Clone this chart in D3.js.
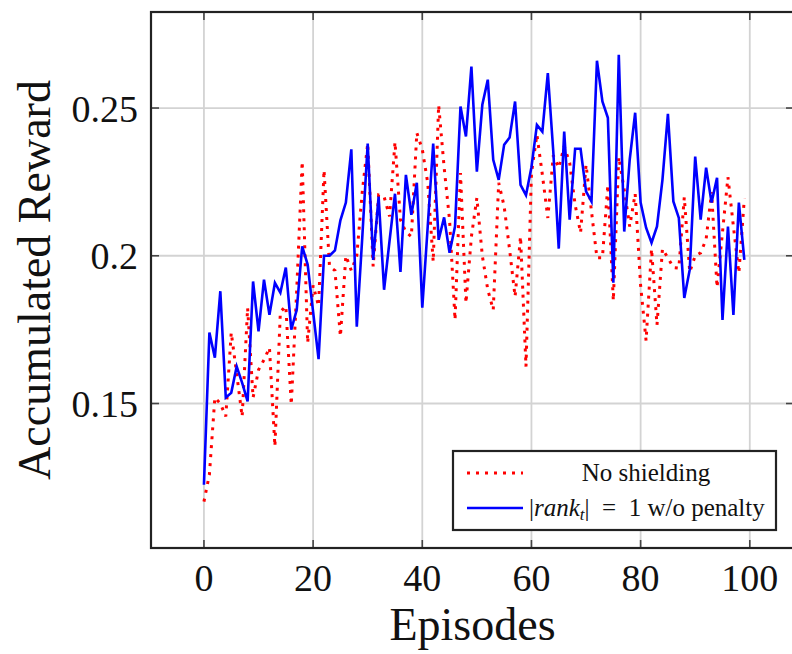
<!DOCTYPE html>
<html lang="en">
<head>
    <meta charset="UTF-8">
    <title>Accumulated Reward per Episode</title>
    <style>
        body { margin: 0; background: #fff; }
        svg { display: block; }
        text { font-family: "Liberation Serif", "Times New Roman", serif; fill: #111; }
        .tick-label { font-size: 38px; }
        .axis-label { font-size: 46px; }
        .legend-text { font-size: 25px; }
        .grid line { stroke: #d3d3d3; stroke-width: 1.8; }
    </style>
</head>
<body>

    <svg width="792" height="654"></svg>

    <script src="https://d3js.org/d3.v7.min.js"></script>
    <script>

        // Episode index for each sample
        const episodes = d3.range(0, 100);

        // "No shielding" (red, dotted)
        const noShielding = [
            0.1168, 0.126, 0.152, 0.150, 0.1456, 0.174, 0.160, 0.1456, 0.1824, 0.152,
            0.1614, 0.1648, 0.1689, 0.1355, 0.181, 0.183, 0.1496, 0.1885, 0.2319, 0.1705,
            0.190, 0.183, 0.229, 0.1964, 0.195, 0.1727, 0.200, 0.195, 0.200, 0.2215,
            0.238, 0.1964, 0.2206, 0.220, 0.2133, 0.2385, 0.2122, 0.208, 0.2065, 0.2416,
            0.236, 0.2247, 0.198, 0.251, 0.230, 0.212, 0.1783, 0.228, 0.184, 0.2065,
            0.2196, 0.200, 0.1885, 0.1817, 0.2247, 0.2167, 0.202, 0.1862, 0.2065, 0.1625,
            0.228, 0.241, 0.2274, 0.2128, 0.234, 0.2298, 0.237, 0.2315, 0.2173, 0.2078,
            0.2308, 0.215, 0.1993, 0.1993, 0.224, 0.1848, 0.2334, 0.2223, 0.2099, 0.221,
            0.190, 0.1713, 0.2023, 0.1766, 0.2023, 0.1993, 0.196, 0.1958, 0.2198, 0.1945,
            0.200, 0.201, 0.2056, 0.2215, 0.1893, 0.208, 0.2266, 0.2099, 0.1942, 0.2193
        ];

        // "|rank_t| = 1 w/o penalty" (blue, solid)
        const rankOne = [
            0.1225, 0.174, 0.1655, 0.188, 0.152, 0.1536, 0.1625, 0.157, 0.1507, 0.1913,
            0.1744, 0.1919, 0.180, 0.1908, 0.1875, 0.196, 0.175, 0.1817, 0.2032, 0.197,
            0.181, 0.165, 0.200, 0.200, 0.2018, 0.212, 0.218, 0.236, 0.176, 0.206,
            0.238, 0.1986, 0.220, 0.1885, 0.205, 0.221, 0.1945, 0.2274, 0.2139, 0.2247,
            0.1824, 0.210, 0.238, 0.2054, 0.213, 0.201, 0.210, 0.2505, 0.2404, 0.264,
            0.2285, 0.2511, 0.2596, 0.2325, 0.2257, 0.2376, 0.240, 0.2522, 0.224, 0.2205,
            0.230, 0.2443, 0.242, 0.2618, 0.2353, 0.2024, 0.242, 0.2122, 0.2362, 0.2362,
            0.2218, 0.2184, 0.266, 0.2522, 0.2467, 0.1909, 0.268, 0.2082, 0.2325, 0.2484,
            0.218, 0.2095, 0.2044, 0.2099, 0.2257, 0.248, 0.2184, 0.2128, 0.1857, 0.1953,
            0.2336, 0.2122, 0.2298, 0.218, 0.2264, 0.1783, 0.2099, 0.180, 0.218, 0.1986
        ];

        const xTicks = [0, 20, 40, 60, 80, 100];
        const yTicks = [0.15, 0.2, 0.25];
        const yTickLabels = ['0.15', '0.2', '0.25'];

        const seriesNames = ['No shielding', '|rank_t| = 1 w/o penalty'];

        // Plot box (the right border falls just outside the picture)
        const box = { left: 151, right: 794, top: 12, bottom: 548 };

        const svg = d3.select('svg');

        const xScale = d3.scaleLinear()
            .domain([-9.7, 108.1])
            .range([box.left, box.right]);

        const yScale = d3.scaleLinear()
            .domain([0.1011, 0.2825])
            .range([box.bottom, box.top]);

        // Grid lines
        const grid = svg.append('g').attr('class', 'grid');

        grid.selectAll('line.gx')
            .data(xTicks)
            .enter()
            .append('line')
            .attr('x1', function (d) { return xScale(d); })
            .attr('x2', function (d) { return xScale(d); })
            .attr('y1', box.top)
            .attr('y2', box.bottom);

        grid.selectAll('line.gy')
            .data(yTicks)
            .enter()
            .append('line')
            .attr('class', 'gy')
            .attr('x1', box.left)
            .attr('x2', box.right)
            .attr('y1', function (d) { return yScale(d); })
            .attr('y2', function (d) { return yScale(d); });

        // Inward tick marks on all four sides
        const tickLen = 8;
        const ticks = svg.append('g')
            .attr('stroke', '#444')
            .attr('stroke-width', 1.6);

        xTicks.forEach(function (t) {
            const x = xScale(t);
            ticks.append('line').attr('x1', x).attr('x2', x)
                .attr('y1', box.bottom).attr('y2', box.bottom - tickLen);
            ticks.append('line').attr('x1', x).attr('x2', x)
                .attr('y1', box.top).attr('y2', box.top + tickLen);
        });

        yTicks.forEach(function (t) {
            const y = yScale(t);
            ticks.append('line').attr('x1', box.left).attr('x2', box.left + tickLen)
                .attr('y1', y).attr('y2', y);
            ticks.append('line').attr('x1', box.right).attr('x2', box.right - tickLen)
                .attr('y1', y).attr('y2', y);
        });

        // Series
        const line = function (values) {
            return d3.line()
                .x(function (d, i) { return xScale(episodes[i]); })
                .y(function (d) { return yScale(d); })(values);
        };

        svg.append('path')
            .attr('d', line(noShielding))
            .attr('fill', 'none')
            .attr('stroke', '#ff0000')
            .attr('stroke-width', 3)
            .attr('stroke-dasharray', '3 6');

        svg.append('path')
            .attr('d', line(rankOne))
            .attr('fill', 'none')
            .attr('stroke', '#0000ff')
            .attr('stroke-width', 2.6)
            .attr('stroke-linejoin', 'miter');

        // Frame
        svg.append('rect')
            .attr('x', box.left)
            .attr('y', box.top)
            .attr('width', box.right - box.left)
            .attr('height', box.bottom - box.top)
            .attr('fill', 'none')
            .attr('stroke', '#222')
            .attr('stroke-width', 2.2);

        // Tick labels
        svg.append('g')
            .selectAll('text')
            .data(xTicks)
            .enter()
            .append('text')
            .attr('class', 'tick-label')
            .attr('x', function (d) { return xScale(d); })
            .attr('y', 591)
            .attr('text-anchor', 'middle')
            .text(function (d) { return d; });

        svg.append('g')
            .selectAll('text')
            .data(yTicks)
            .enter()
            .append('text')
            .attr('class', 'tick-label')
            .attr('x', 138)
            .attr('y', function (d) { return yScale(d); })
            .attr('dy', '0.36em')
            .attr('text-anchor', 'end')
            .text(function (d, i) { return yTickLabels[i]; });

        // Axis labels
        svg.append('text')
            .attr('class', 'axis-label')
            .attr('x', (box.left + box.right) / 2)
            .attr('y', 640)
            .attr('text-anchor', 'middle')
            .text('Episodes');

        svg.append('text')
            .attr('class', 'axis-label')
            .attr('transform', 'translate(50 ' + ((box.top + box.bottom) / 2) + ') rotate(-90)')
            .attr('text-anchor', 'middle')
            .text('Accumulated Reward');

        // Legend
        const legend = svg.append('g').attr('transform', 'translate(453 451)');

        legend.append('rect')
            .attr('width', 323)
            .attr('height', 79)
            .attr('fill', '#fff')
            .attr('stroke', '#222')
            .attr('stroke-width', 2.2);

        legend.append('line')
            .attr('x1', 14).attr('x2', 70)
            .attr('y1', 22).attr('y2', 22)
            .attr('stroke', '#ff0000')
            .attr('stroke-width', 3)
            .attr('stroke-dasharray', '3 6');

        legend.append('line')
            .attr('x1', 14).attr('x2', 70)
            .attr('y1', 57).attr('y2', 57)
            .attr('stroke', '#0000ff')
            .attr('stroke-width', 2.6);

        legend.append('text')
            .attr('class', 'legend-text')
            .attr('x', 193)
            .attr('y', 30)
            .attr('text-anchor', 'middle')
            .text(seriesNames[0]);

        // |rank_t| = 1 w/o penalty, with math-style italics and spacing
        const label2 = legend.append('text')
            .attr('class', 'legend-text')
            .attr('x', 76)
            .attr('y', 65);
        label2.append('tspan').text('|');
        label2.append('tspan').attr('font-style', 'italic').text('rank');
        label2.append('tspan').attr('font-style', 'italic')
            .attr('font-size', '17px').attr('dy', 4).text('t');
        label2.append('tspan').attr('dy', -4).text('|\u2002=\u20021 w/o penalty');

    </script>
</body>
</html>
